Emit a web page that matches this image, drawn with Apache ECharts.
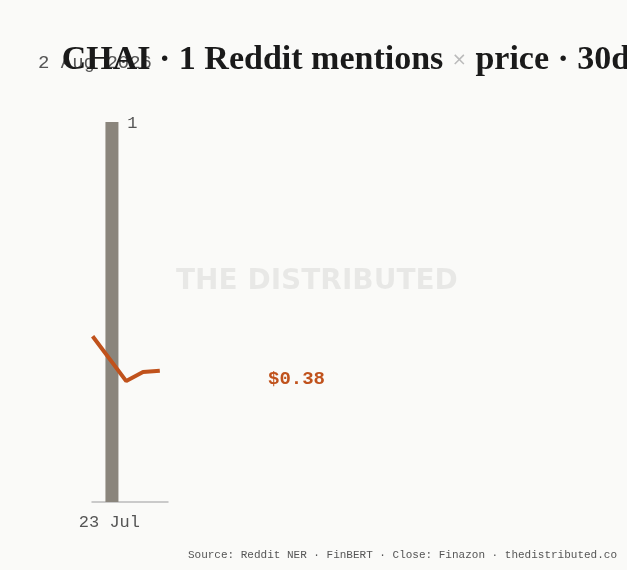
<!DOCTYPE html><html><head><meta charset="utf-8">
<script src="https://cdn.jsdelivr.net/npm/echarts@6/dist/echarts.min.js"></script>
<style>html,body{margin:0;background:#fafaf8}#c{width:627px;height:570px}</style></head><body><div id="c"></div>
<script>
const mentionDates=['2026-07-23'];
const mentionValues=[1];
const priceDates=['2026-07-22','2026-07-24','2026-07-25','2026-07-26'];
const priceValues=[0.48,0.35,0.376,0.38];
const xLabels=['23 Jul'];
const M=['Jan','Feb','Mar','Apr','May','Jun','Jul','Aug','Sep','Oct','Nov','Dec'];
const D=86400000;
const t0=new Date('2026-07-23T00:00:00').getTime();
const c=echarts.init(document.getElementById('c'));
c.setOption({
 backgroundColor:'#fafaf8',animation:false,
 title:{text:'CHAI · 1 Reddit mentions {x|×} price · 30d',left:341,textAlign:'center',top:38,
  textStyle:{fontFamily:'Liberation Serif',fontWeight:'bold',fontSize:34,color:'#1a1a1a',
   rich:{x:{fontFamily:'DejaVu Sans',fontSize:18,color:'#bbb',fontWeight:'normal'}}}},
 graphic:[
  {type:'text',left:38,top:53,z:-1,style:{text:'2 Aug 2026',font:'19px "Liberation Mono"',fill:'#555'}},
  {type:'text',left:176,top:268,z:-1,style:{text:'THE DISTRIBUTED',font:'bold 28px "DejaVu Sans"',fill:'rgba(0,0,0,0.07)'}},
  {type:'text',left:268,top:370,style:{text:'$'+priceValues[priceValues.length-1].toFixed(2),font:'bold 19px "Liberation Mono"',fill:'#c0521c'}},
  {type:'text',right:10,top:550,style:{text:'Source: Reddit NER · FinBERT · Close: Finazon · thedistributed.co',font:'11px "Liberation Mono"',fill:'#555'}}
 ],
 grid:{left:92,right:459,top:122,bottom:68},
 xAxis:{type:'time',min:t0-D*0.65,max:t0+D*3.1,
  axisLine:{lineStyle:{color:'#bbb',width:1.5}},axisTick:{show:false},splitLine:{show:false},
  axisLabel:{showMinLabel:false,showMaxLabel:false,
   formatter:function(v){const d=new Date(v);const s=d.getDate()+' '+M[d.getMonth()];return xLabels.indexOf(s)>=0?s:'';},
   fontFamily:'Liberation Mono',fontSize:17,color:'#555',margin:12}},
 yAxis:[{type:'value',min:0,max:1,show:false},{type:'value',min:0,max:1.1,show:false}],
 series:[
  {type:'bar',yAxisIndex:0,barWidth:13,data:mentionDates.map((d,i)=>[new Date(d+'T00:00:00').getTime()+D*0.15,mentionValues[i]]),
   itemStyle:{color:'#8a857c'},label:{show:true,position:'insideTopRight',offset:[24,-12],fontFamily:'Liberation Mono',fontSize:17,color:'#555'}},
  {type:'line',yAxisIndex:1,symbol:'none',clip:true,data:priceDates.map((d,i)=>[new Date(d+'T00:00:00').getTime(),priceValues[i]]),
   lineStyle:{color:'#c0521c',width:4}}
 ]
});
</script></body></html>
